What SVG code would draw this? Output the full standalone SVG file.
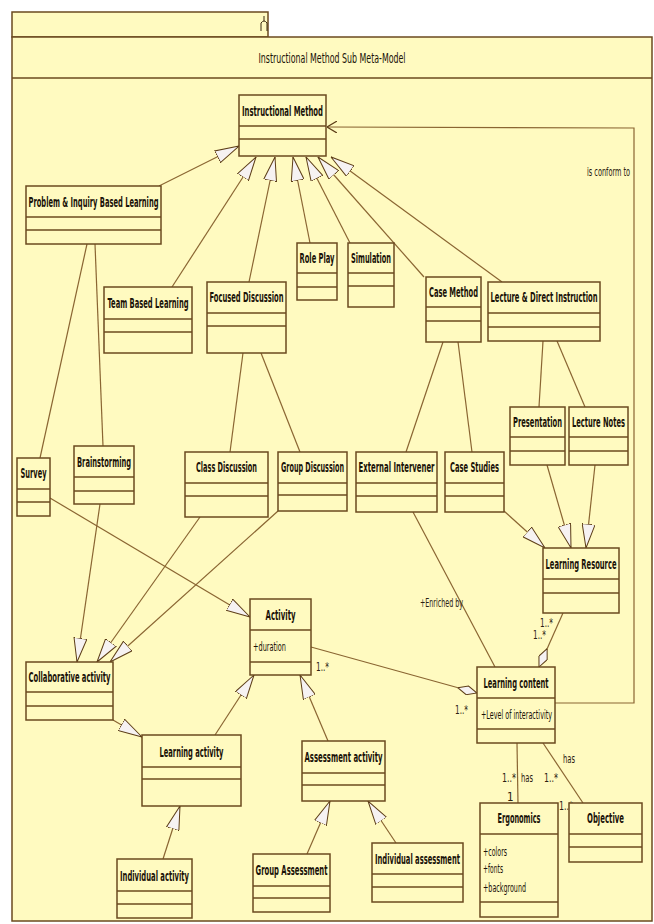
<svg xmlns="http://www.w3.org/2000/svg" width="654" height="924" viewBox="0 0 654 924">
<style>
.pkg{fill:#fffac0;stroke:#6b4a1f;stroke-width:1.5}
.box rect{fill:#fffac0;stroke:#6b4a1f;stroke-width:1.5}
.box line{stroke:#6b4a1f;stroke-width:1.5}
.t{font-family:"DejaVu Sans Condensed","Liberation Sans Narrow","Liberation Sans",sans-serif;font-size:14px;font-weight:bold;fill:#1a1208;text-anchor:middle}
.a{font-family:"DejaVu Sans Condensed","Liberation Sans Narrow","Liberation Sans",sans-serif;font-size:12.5px;fill:#1a1208}
.m{font-family:"DejaVu Sans Condensed","Liberation Sans Narrow","Liberation Sans",sans-serif;font-size:11.5px;fill:#2a2010}
.c path{fill:none;stroke:#8a6532;stroke-width:1.2}
.gen{marker-end:url(#gen)}
.agg{marker-end:url(#agg)}
.dep{marker-end:url(#open)}
</style>
<defs>
<marker id="gen" viewBox="0 0 24 14" refX="24" refY="7" markerWidth="24" markerHeight="14" markerUnits="userSpaceOnUse" orient="auto">
<path d="M24,7 L0,0.5 L0,13.5 Z" fill="#f6f2f2" stroke="#5c3d17" stroke-width="1"/>
</marker>
<marker id="agg" viewBox="0 0 20 10" refX="20" refY="5" markerWidth="20" markerHeight="10" markerUnits="userSpaceOnUse" orient="auto">
<path d="M0,5 L10,0.5 L20,5 L10,9.5 Z" fill="#f6f2f2" stroke="#5c3d17" stroke-width="1"/>
</marker>
<marker id="open" viewBox="0 0 10 12" refX="10" refY="6" markerWidth="10" markerHeight="12" markerUnits="userSpaceOnUse" orient="auto">
<path d="M0,0 L10,6 L0,12" fill="none" stroke="#5c3d17" stroke-width="1.2"/>
</marker>
</defs>
<rect width="654" height="924" fill="#ffffff"/>
<g id="package">
<rect class="pkg" x="12" y="12" width="256" height="25"/>
<path d="M261,31 L261,23 Q264,19 267,23 L267,31 M264,21 L264,16" fill="none" stroke="#3a2a10" stroke-width="1"/>
<rect class="pkg" x="12" y="37" width="640" height="884"/>
<line x1="12" y1="78" x2="652" y2="78" stroke="#6b4a1f" stroke-width="1.5"/>
<text class="t" transform="translate(332,63) scale(0.5,1)" textLength="294" lengthAdjust="spacingAndGlyphs" style="font-weight:normal">Instructional Method Sub Meta-Model</text>
</g>
<g id="connectors" class="c">
<path class="gen" d="M159,186 L239,146"/>
<path class="gen" d="M172,287 L256,157"/>
<path class="gen" d="M249,282 L275,157"/>
<path class="gen" d="M310,243 L293,157"/>
<path class="gen" d="M350,243 L306,157"/>
<path class="gen" d="M424,277 L318,157"/>
<path class="gen" d="M502,282 L331,157"/>
<path class="gen" d="M547,465 L571,548"/>
<path class="gen" d="M595,465 L586,548"/>
<path class="gen" d="M504,511 L545,548"/>
<path class="gen" d="M100,504 L77,662"/>
<path class="gen" d="M200,517 L97,662"/>
<path class="gen" d="M278,511 L110,662"/>
<path class="gen" d="M50,498 L250,617"/>
<path class="gen" d="M215,735 L254,675"/>
<path class="gen" d="M328,741 L300,675"/>
<path class="gen" d="M113,720 L142,737"/>
<path class="gen" d="M163,859 L180,806"/>
<path class="gen" d="M307,854 L330,801"/>
<path class="gen" d="M396,843 L368,801"/>
<path d="M87,244 L40,458"/>
<path d="M95,244 L103,446"/>
<path d="M243,353 L230,452"/>
<path d="M261,353 L300,452"/>
<path d="M443,342 L406,452"/>
<path d="M458,342 L472,452"/>
<path d="M543,341 L539,407"/>
<path d="M557,341 L585,407"/>
<path d="M413,512 L495,667"/>
<path d="M517,743 L518,803"/>
<path d="M543,743 L583,803"/>
<path class="agg" d="M563,613 L539,667"/>
<path class="agg" d="M311,647 L477,693"/>
<path class="dep" d="M555,703 L634,703 L634,128 L327,127"/>
<text class="m" transform="translate(587,176) scale(0.5,1)" textLength="86" lengthAdjust="spacingAndGlyphs">is conform to</text>
<text class="m" transform="translate(420,607) scale(0.5,1)" textLength="86" lengthAdjust="spacingAndGlyphs">+Enriched by</text>
<text class="m" transform="translate(540,627) scale(0.5,1)" textLength="26" lengthAdjust="spacingAndGlyphs">1..*</text>
<text class="m" transform="translate(533,639) scale(0.5,1)" textLength="26" lengthAdjust="spacingAndGlyphs">1..*</text>
<text class="m" transform="translate(316,671) scale(0.5,1)" textLength="26" lengthAdjust="spacingAndGlyphs">1..*</text>
<text class="m" transform="translate(455,714) scale(0.5,1)" textLength="26" lengthAdjust="spacingAndGlyphs">1..*</text>
<text class="m" transform="translate(502,782) scale(0.5,1)" textLength="28" lengthAdjust="spacingAndGlyphs">1..*</text>
<text class="m" transform="translate(521,782) scale(0.5,1)" textLength="24" lengthAdjust="spacingAndGlyphs">has</text>
<text class="m" x="507" y="801">1</text>
<text class="m" transform="translate(544,782) scale(0.5,1)" textLength="28" lengthAdjust="spacingAndGlyphs">1..*</text>
<text class="m" transform="translate(563,763) scale(0.5,1)" textLength="24" lengthAdjust="spacingAndGlyphs">has</text>
<text class="m" transform="translate(559,810) scale(0.5,1)" textLength="28" lengthAdjust="spacingAndGlyphs">1..*</text>
</g>
<g id="instructional-method" class="box"><rect x="239" y="95" width="87" height="61"/><line x1="239" y1="126" x2="326" y2="126"/><line x1="239" y1="139" x2="326" y2="139"/><text class="t" transform="translate(282.5,116) scale(0.5,1)" textLength="162" lengthAdjust="spacingAndGlyphs">Instructional Method</text></g>
<g id="problem-inquiry" class="box"><rect x="26" y="186" width="135" height="58"/><line x1="26" y1="217" x2="161" y2="217"/><line x1="26" y1="230" x2="161" y2="230"/><text class="t" transform="translate(93.5,207) scale(0.5,1)" textLength="260" lengthAdjust="spacingAndGlyphs">Problem &amp; Inquiry Based Learning</text></g>
<g id="team-based" class="box"><rect x="104" y="287" width="88" height="66"/><line x1="104" y1="319" x2="192" y2="319"/><line x1="104" y1="332" x2="192" y2="332"/><text class="t" transform="translate(148,308) scale(0.5,1)" textLength="162" lengthAdjust="spacingAndGlyphs">Team Based Learning</text></g>
<g id="focused-discussion" class="box"><rect x="207" y="282" width="79" height="71"/><line x1="207" y1="313" x2="286" y2="313"/><line x1="207" y1="326" x2="286" y2="326"/><text class="t" transform="translate(246.5,302) scale(0.5,1)" textLength="148" lengthAdjust="spacingAndGlyphs">Focused Discussion</text></g>
<g id="role-play" class="box"><rect x="297" y="243" width="40" height="57"/><line x1="297" y1="273" x2="337" y2="273"/><line x1="297" y1="287" x2="337" y2="287"/><text class="t" transform="translate(317,263) scale(0.5,1)" textLength="70" lengthAdjust="spacingAndGlyphs">Role Play</text></g>
<g id="simulation" class="box"><rect x="348" y="243" width="46" height="64"/><line x1="348" y1="273" x2="394" y2="273"/><line x1="348" y1="286" x2="394" y2="286"/><text class="t" transform="translate(371,263) scale(0.5,1)" textLength="80" lengthAdjust="spacingAndGlyphs">Simulation</text></g>
<g id="case-method" class="box"><rect x="426" y="277" width="55" height="65"/><line x1="426" y1="307" x2="481" y2="307"/><line x1="426" y1="321" x2="481" y2="321"/><text class="t" transform="translate(453.5,297) scale(0.5,1)" textLength="98" lengthAdjust="spacingAndGlyphs">Case Method</text></g>
<g id="lecture-direct" class="box"><rect x="488" y="282" width="112" height="59"/><line x1="488" y1="313" x2="600" y2="313"/><line x1="488" y1="327" x2="600" y2="327"/><text class="t" transform="translate(544,302) scale(0.5,1)" textLength="214" lengthAdjust="spacingAndGlyphs">Lecture &amp; Direct Instruction</text></g>
<g id="presentation" class="box"><rect x="510" y="407" width="55" height="58"/><line x1="510" y1="437" x2="565" y2="437"/><line x1="510" y1="451" x2="565" y2="451"/><text class="t" transform="translate(537.5,427) scale(0.5,1)" textLength="98" lengthAdjust="spacingAndGlyphs">Presentation</text></g>
<g id="lecture-notes" class="box"><rect x="569" y="407" width="59" height="58"/><line x1="569" y1="437" x2="628" y2="437"/><line x1="569" y1="451" x2="628" y2="451"/><text class="t" transform="translate(598.5,427) scale(0.5,1)" textLength="106" lengthAdjust="spacingAndGlyphs">Lecture Notes</text></g>
<g id="survey" class="box"><rect x="17" y="458" width="33" height="58"/><line x1="17" y1="489" x2="50" y2="489"/><line x1="17" y1="502" x2="50" y2="502"/><text class="t" transform="translate(33.5,478) scale(0.5,1)" textLength="52" lengthAdjust="spacingAndGlyphs">Survey</text></g>
<g id="brainstorming" class="box"><rect x="74" y="446" width="60" height="58"/><line x1="74" y1="477" x2="134" y2="477"/><line x1="74" y1="491" x2="134" y2="491"/><text class="t" transform="translate(104,467) scale(0.5,1)" textLength="108" lengthAdjust="spacingAndGlyphs">Brainstorming</text></g>
<g id="class-discussion" class="box"><rect x="185" y="452" width="83" height="65"/><line x1="185" y1="483" x2="268" y2="483"/><line x1="185" y1="496" x2="268" y2="496"/><text class="t" transform="translate(226.5,472) scale(0.5,1)" textLength="122" lengthAdjust="spacingAndGlyphs">Class Discussion</text></g>
<g id="group-discussion" class="box"><rect x="278" y="452" width="69" height="59"/><line x1="278" y1="483" x2="347" y2="483"/><line x1="278" y1="495" x2="347" y2="495"/><text class="t" transform="translate(312.5,472) scale(0.5,1)" textLength="126" lengthAdjust="spacingAndGlyphs">Group Discussion</text></g>
<g id="external-intervener" class="box"><rect x="356" y="452" width="81" height="60"/><line x1="356" y1="483" x2="437" y2="483"/><line x1="356" y1="496" x2="437" y2="496"/><text class="t" transform="translate(396.5,472) scale(0.5,1)" textLength="152" lengthAdjust="spacingAndGlyphs">External Intervener</text></g>
<g id="case-studies" class="box"><rect x="445" y="452" width="59" height="60"/><line x1="445" y1="483" x2="504" y2="483"/><line x1="445" y1="496" x2="504" y2="496"/><text class="t" transform="translate(474.5,472) scale(0.5,1)" textLength="98" lengthAdjust="spacingAndGlyphs">Case Studies</text></g>
<g id="learning-resource" class="box"><rect x="543" y="548" width="76" height="65"/><line x1="543" y1="579" x2="619" y2="579"/><line x1="543" y1="593" x2="619" y2="593"/><text class="t" transform="translate(581,569) scale(0.5,1)" textLength="142" lengthAdjust="spacingAndGlyphs">Learning Resource</text></g>
<g id="activity" class="box"><rect x="250" y="599" width="61" height="76"/><line x1="250" y1="630" x2="311" y2="630"/><line x1="250" y1="662" x2="311" y2="662"/><text class="t" transform="translate(280.5,620) scale(0.5,1)" textLength="60" lengthAdjust="spacingAndGlyphs">Activity</text><text class="a" transform="translate(253,651) scale(0.5,1)" textLength="66" lengthAdjust="spacingAndGlyphs">+duration</text></g>
<g id="collaborative-activity" class="box"><rect x="26" y="662" width="87" height="58"/><line x1="26" y1="692" x2="113" y2="692"/><line x1="26" y1="706" x2="113" y2="706"/><text class="t" transform="translate(69.5,682) scale(0.5,1)" textLength="164" lengthAdjust="spacingAndGlyphs">Collaborative activity</text></g>
<g id="learning-content" class="box"><rect x="477" y="667" width="78" height="76"/><line x1="477" y1="698" x2="555" y2="698"/><line x1="477" y1="729" x2="555" y2="729"/><text class="t" transform="translate(516,688) scale(0.5,1)" textLength="130" lengthAdjust="spacingAndGlyphs">Learning content</text><text class="a" transform="translate(481,719) scale(0.5,1)" textLength="142" lengthAdjust="spacingAndGlyphs">+Level of interactivity</text></g>
<g id="learning-activity" class="box"><rect x="142" y="735" width="99" height="71"/><line x1="142" y1="767" x2="241" y2="767"/><line x1="142" y1="779" x2="241" y2="779"/><text class="t" transform="translate(191.5,757) scale(0.5,1)" textLength="128" lengthAdjust="spacingAndGlyphs">Learning activity</text></g>
<g id="assessment-activity" class="box"><rect x="302" y="741" width="83" height="60"/><line x1="302" y1="773" x2="385" y2="773"/><line x1="302" y1="785" x2="385" y2="785"/><text class="t" transform="translate(343.5,762) scale(0.5,1)" textLength="156" lengthAdjust="spacingAndGlyphs">Assessment activity</text></g>
<g id="individual-activity" class="box"><rect x="117" y="859" width="75" height="59"/><line x1="117" y1="891" x2="192" y2="891"/><line x1="117" y1="904" x2="192" y2="904"/><text class="t" transform="translate(154.5,881) scale(0.5,1)" textLength="138" lengthAdjust="spacingAndGlyphs">Individual activity</text></g>
<g id="group-assessment" class="box"><rect x="253" y="854" width="77" height="58"/><line x1="253" y1="886" x2="330" y2="886"/><line x1="253" y1="898" x2="330" y2="898"/><text class="t" transform="translate(291.5,875) scale(0.5,1)" textLength="144" lengthAdjust="spacingAndGlyphs">Group Assessment</text></g>
<g id="individual-assessment" class="box"><rect x="372" y="843" width="91" height="59"/><line x1="372" y1="874" x2="463" y2="874"/><line x1="372" y1="887" x2="463" y2="887"/><text class="t" transform="translate(417.5,864) scale(0.5,1)" textLength="170" lengthAdjust="spacingAndGlyphs">Individual assessment</text></g>
<g id="ergonomics" class="box"><rect x="480" y="803" width="78" height="114"/><line x1="480" y1="834" x2="558" y2="834"/><line x1="480" y1="902" x2="558" y2="902"/><text class="t" transform="translate(519,823) scale(0.5,1)" textLength="86" lengthAdjust="spacingAndGlyphs">Ergonomics</text><text class="a" transform="translate(483,856) scale(0.5,1)" textLength="48" lengthAdjust="spacingAndGlyphs">+colors</text><text class="a" transform="translate(483,873) scale(0.5,1)" textLength="40" lengthAdjust="spacingAndGlyphs">+fonts</text><text class="a" transform="translate(483,892) scale(0.5,1)" textLength="86" lengthAdjust="spacingAndGlyphs">+background</text></g>
<g id="objective" class="box"><rect x="569" y="803" width="73" height="59"/><line x1="569" y1="834" x2="642" y2="834"/><line x1="569" y1="847" x2="642" y2="847"/><text class="t" transform="translate(605.5,823) scale(0.5,1)" textLength="74" lengthAdjust="spacingAndGlyphs">Objective</text></g>
</svg>
